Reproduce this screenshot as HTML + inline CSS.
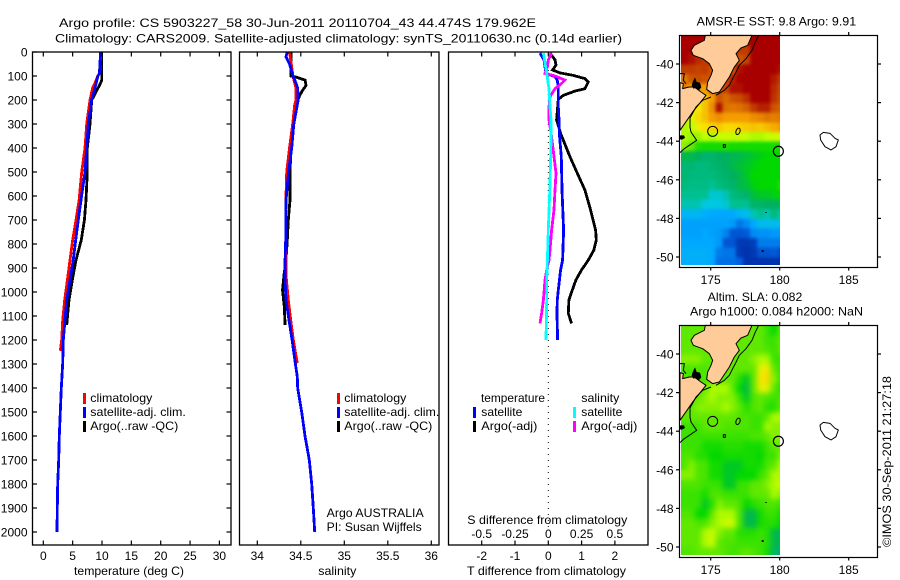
<!DOCTYPE html>
<html>
<head>
<meta charset="utf-8">
<title>Argo profile</title>
<style>
html,body{margin:0;padding:0;background:#fff}
svg{display:block}
text{font-family:"Liberation Sans",sans-serif;font-size:12px;fill:#000}
</style>
</head>
<body>
<svg id="chart" width="900" height="580" viewBox="0 0 900 580" xmlns="http://www.w3.org/2000/svg">
<defs>
<clipPath id="clip-map1"><rect x="681" y="35.5" width="99" height="229.5"/></clipPath>
<clipPath id="clip-map2"><rect x="681" y="325.5" width="99" height="229.5"/></clipPath>
<filter id="soft-sst" x="-5%" y="-5%" width="110%" height="110%" color-interpolation-filters="sRGB">
<feGaussianBlur in="SourceGraphic" stdDeviation="1.6" result="b"/>
<feMerge><feMergeNode in="SourceGraphic"/><feMergeNode in="b"/></feMerge>
</filter>
<filter id="soft-sla" x="-5%" y="-5%" width="110%" height="110%" color-interpolation-filters="sRGB">
<feGaussianBlur in="SourceGraphic" stdDeviation="2.8" result="b"/>
<feMerge><feMergeNode in="SourceGraphic"/><feMergeNode in="b"/></feMerge>
</filter>
</defs>
<rect x="0" y="0" width="900" height="580" fill="#fff"/>

<text x="59" y="27" textLength="477" lengthAdjust="spacingAndGlyphs">Argo profile: CS 5903227_58 30-Jun-2011 20110704_43 44.474S 179.962E</text>
<text x="55" y="42.5" textLength="567" lengthAdjust="spacingAndGlyphs">Climatology: CARS2009. Satellite-adjusted climatology: synTS_20110630.nc (0.14d earlier)</text>

<g id="series-temperature"></g>
<g id="series-salinity"></g>
<g id="series-diff"></g>
<g id="axes"></g>

<rect x="32.5" y="52" width="198.5" height="493" fill="none" stroke="#000" stroke-width="1.3"/>
<rect x="239.5" y="52" width="199.5" height="493" fill="none" stroke="#000" stroke-width="1.3"/>
<rect x="448.5" y="52" width="199.5" height="493" fill="none" stroke="#000" stroke-width="1.3"/>

<g>
<rect x="83" y="393" width="3" height="11" fill="#f00"/>
<rect x="83" y="407" width="3" height="11" fill="#00f"/>
<rect x="83" y="421" width="3" height="11" fill="#000"/>
<text x="90.3" y="402" textLength="62" lengthAdjust="spacingAndGlyphs">climatology</text>
<text x="90.3" y="416" textLength="95.5" lengthAdjust="spacingAndGlyphs">satellite-adj. clim.</text>
<text x="90.3" y="430" textLength="88" lengthAdjust="spacingAndGlyphs">Argo(..raw -QC)</text>
</g>
<g>
<rect x="337" y="393" width="3" height="11" fill="#f00"/>
<rect x="337" y="407" width="3" height="11" fill="#00f"/>
<rect x="337" y="421" width="3" height="11" fill="#000"/>
<text x="344.3" y="402" textLength="62" lengthAdjust="spacingAndGlyphs">climatology</text>
<text x="344.3" y="416" textLength="95" lengthAdjust="spacingAndGlyphs">satellite-adj. clim.</text>
<text x="344.3" y="430" textLength="88" lengthAdjust="spacingAndGlyphs">Argo(..raw -QC)</text>
<text x="326.7" y="517" textLength="97" lengthAdjust="spacingAndGlyphs">Argo AUSTRALIA</text>
<text x="326.7" y="531" textLength="95" lengthAdjust="spacingAndGlyphs">PI: Susan Wijffels</text>
</g>
<g>
<text x="481" y="402" textLength="64" lengthAdjust="spacingAndGlyphs">temperature</text>
<text x="581.3" y="402" textLength="38" lengthAdjust="spacingAndGlyphs">salinity</text>
<rect x="473" y="407" width="3" height="11" fill="#00f"/>
<rect x="473" y="421" width="3" height="11" fill="#000"/>
<rect x="573" y="407" width="3" height="11" fill="#0ff"/>
<rect x="573" y="421" width="3" height="11" fill="#f0f"/>
<text x="481.3" y="416" textLength="41" lengthAdjust="spacingAndGlyphs">satellite</text>
<text x="481.3" y="430" textLength="56" lengthAdjust="spacingAndGlyphs">Argo(-adj)</text>
<text x="581.3" y="416" textLength="41" lengthAdjust="spacingAndGlyphs">satellite</text>
<text x="581.3" y="430" textLength="56" lengthAdjust="spacingAndGlyphs">Argo(-adj)</text>
</g>

<text x="74" y="575" textLength="110" lengthAdjust="spacingAndGlyphs">temperature (deg C)</text>
<text x="318.3" y="575" textLength="38" lengthAdjust="spacingAndGlyphs">salinity</text>
<text x="467.3" y="524" textLength="160" lengthAdjust="spacingAndGlyphs">S difference from climatology</text>
<text x="467" y="575" textLength="159" lengthAdjust="spacingAndGlyphs">T difference from climatology</text>

<text x="696.7" y="25.5" textLength="159.5" lengthAdjust="spacingAndGlyphs">AMSR-E SST: 9.8 Argo: 9.91</text>
<text x="707.7" y="301" textLength="94.6" lengthAdjust="spacingAndGlyphs">Altim. SLA: 0.082</text>
<text x="690" y="315.5" textLength="173" lengthAdjust="spacingAndGlyphs">Argo h1000: 0.084 h2000: NaN</text>

<g clip-path="url(#clip-map1)"><g id="map1-cells" filter="url(#soft-sst)"></g></g>
<g clip-path="url(#clip-map2)"><g id="map2-cells" filter="url(#soft-sla)"></g></g>

<g id="coast" transform="translate(676 32) scale(0.33333)" stroke="#000" stroke-width="3" stroke-linejoin="round">
<path fill="#ffcc99" d="M88 10L85 25L55 40L45 55L52 70L80 80L100 95L110 115L105 130L95 150L92 172L110 185L130 180L160 135L175 105L190 85L180 65L195 48L215 40L228 10Z"/>
<path fill="#ffcc99" d="M12 152L22 155L20 170L40 165L55 165L75 180L90 190L70 215L50 240L35 262L12 295Z"/>
<path fill="none" d="M248 10L238 30L228 55L210 80L190 100L178 125L170 140L160 160L145 175L120 190"/>
<path fill="none" d="M105 195L80 205L60 225L42 258L42 285L45 300L62 325L40 340L25 350L12 362"/>
<path fill="none" d="M12 125L25 125L22 145L30 155"/>
<path fill="#000" stroke="none" d="M50 150L57 136L62 150L72 152L76 166L68 176L60 168L52 170L47 160Z"/>
<path fill="#000" stroke="none" d="M12 310L24 310L27 318L18 323L12 322Z"/>
<ellipse cx="110" cy="298" rx="15" ry="15" fill="none"/>
<ellipse cx="186" cy="298" rx="6" ry="10" fill="none" transform="rotate(20 186 298)"/>
<rect x="142" y="338" width="6" height="8" fill="none"/>
<path fill="#fff" d="M432 309L442 301L462 304L477 319L487 324L480 344L465 354L447 344L434 324Z"/>
<rect x="257" y="654" width="6" height="6" fill="#000" stroke="none"/>
<rect x="267" y="541" width="6" height="2" fill="#000" stroke="none"/>
</g>
<use href="#coast" transform="translate(0 290)"/>

<rect x="679.5" y="35.5" width="198" height="232" fill="none" stroke="#000" stroke-width="1.2"/>
<rect x="679.5" y="325.5" width="198" height="232" fill="none" stroke="#000" stroke-width="1.2"/>
<g id="map-axes"></g>
<g id="float-markers"></g>

<text transform="translate(891 547) rotate(-90)" x="0" y="0" textLength="171" lengthAdjust="spacingAndGlyphs">©IMOS 30-Sep-2011 21:27:18</text>

<script>
const depthTicks = [0,100,200,300,400,500,600,700,800,900,1000,1100,1200,1300,1400,1500,1600,1700,1800,1900,2000];
const tempTicks = [0,5,10,15,20,25,30];
const salTicks = [34,34.5,35,35.5,36];
const tDiffTicks = [-2,-1,0,1,2];
const sDiffTicks = [-0.5,-0.25,0,0.25,0.5];
const sDiffTickLabels = ['-0.5','-0.25','0','0.25','0.5'];
const lonTicks = [175,180,185];
const latTicks = [-40,-42,-44,-46,-48,-50];

const argoTempDepth = [0,100,118,140,160,180,200,300,400,500,617,700,783,867,950,1033,1137];
const argoTemp = [9.95,9.95,9.95,9.55,9.1,8.7,8.25,7.95,7.5,7.5,7.27,7.0,6.47,5.57,4.94,4.38,3.98];
const climTempDepth = [0,90,100,120,150,200,250,300,400,500,617,700,783,867,950,1033,1117,1200,1245];
const climTemp = [9.8,9.6,9.27,8.98,8.4,7.95,7.67,7.4,7.1,6.54,6.1,5.57,5.0,4.55,4.1,3.64,3.3,3.13,2.9];
const satTempDepth = [0,90,100,150,200,300,400,500,617,700,783,867,950,1033,1117,1200,1297,1350,1400,1500,1600,1700,1800,1900,2000];
const satTemp = [9.77,9.55,9.3,8.8,8.25,7.67,7.4,7.1,6.43,5.97,5.52,5.1,4.55,3.98,3.7,3.4,3.3,3.19,3.07,2.9,2.73,2.62,2.45,2.39,2.33];

const argoSalDepth = [0,100,105,117,140,160,180,200,220,300,350,400,500,617,700,783,867,929,992,1061,1137];
const argoSal = [34.387,34.387,34.45,34.55,34.56,34.52,34.49,34.464,34.43,34.41,34.4,34.387,34.376,34.376,34.356,34.345,34.33,34.307,34.29,34.31,34.32];
const climSalDepth = [0,100,150,200,220,300,400,500,600,700,930,1033,1117,1200,1297];
const climSal = [34.37,34.41,34.445,34.445,34.43,34.407,34.37,34.338,34.33,34.326,34.33,34.356,34.384,34.414,34.46];
const satSalDepth = [0,20,50,100,130,150,200,250,300,400,500,617,700,783,867,950,1033,1117,1200,1297,1353,1400,1500,1600,1700,1800,1900,2000];
const satSal = [34.345,34.33,34.37,34.41,34.445,34.464,34.47,34.445,34.42,34.395,34.36,34.33,34.326,34.326,34.32,34.32,34.33,34.364,34.4,34.437,34.46,34.464,34.51,34.548,34.598,34.625,34.644,34.66];

const argoTDiffDepth = [5,33,54,75,87,97,111,125,153,163,181,197,283,339,436,492,575,658,742,783,825,867,908,950,992,1033,1089,1131];
const argoTDiff = [0.05,0.2,0.23,0.13,0.35,0.74,1.1,1.2,1.1,0.8,0.45,0.3,0.25,0.37,0.65,0.83,1.1,1.27,1.42,1.44,1.37,1.2,1.0,0.83,0.72,0.62,0.6,0.7];
const satTDiffDepth = [5,33,89,103,117,153,228,283,339,436,575,742,867,908,992,1033,1089,1200];
const satTDiff = [-0.25,-0.13,-0.07,0.2,0.27,0.3,0.3,0.32,0.33,0.39,0.41,0.46,0.43,0.37,0.3,0.27,0.26,0.28];
const argoSDiffDepth = [5,33,61,89,100,117,131,153,186,228,283,353,436,505,575,658,742,825,867,908,950,1033,1089,1131];
const argoSDiff = [0.025,0,-0.007,-0.025,0.05,0.125,0.1,0.05,0.013,0.005,0.005,0.025,0.043,0.058,0.05,0.043,0.025,0.013,0.005,-0.012,-0.025,-0.037,-0.05,-0.0625];
const satSDiffDepth = [5,89,153,228,283,353,436,575,742,867,950,1033,1200];
const satSDiff = [-0.037,-0.012,0.005,0.013,0.02,0.02,0.018,0.011,0,-0.007,-0.012,-0.012,-0.017];

const sstRows = [
[15,15,15,15,15,15,15,15,15,15,15,15,15,15,15],
[15,15,15,15,15,15,15,15,14.3,14.3,15,15,15,15,15],
[15,14.8,14.5,14.3,15,15,15,15,14,14.2,15,15,15,15,15],
[14.3,14.3,14.2,14.3,14,14,14,14,14.8,15,15,15,15,15,14.8],
[13.5,14,14.1,14,14,14,14.2,14.6,15,15,15,15,15,14.7,14.3],
[13.5,13,13,13,14,14,14.2,14.8,14.8,15,15,15,15,14.5,14.1],
[12,12,12,12.5,13,14,13.7,14,14.1,14.4,15,15,15,14.4,14],
[11.5,12,12,12.5,13.2,14.8,13.6,13.5,13.6,13.8,14.3,14.6,14.6,14,13.8],
[11.5,11.8,12.2,12.5,13,13.2,13,13,13,13,13.2,13.3,13.5,13.4,13.5],
[11.4,11.5,11.9,12.1,12.3,12.4,12.2,12.2,12.3,12.4,12.5,12.4,12.6,12.8,13],
[11.4,11.3,11.3,11.5,11.4,11.5,11.6,11.5,11.6,11.5,11.4,11.4,11.5,11.6,11.7],
[11.2,11,10.3,10.2,10.2,10.2,10.3,10.2,10.2,10.2,10.2,10.2,10.2,10.2,10.2],
[9.6,9.6,9.5,9.4,9.4,9.5,9.5,9.6,9.6,9.7,9.8,9.9,10,10,10],
[9.3,9.3,9.2,9.2,9.3,9.4,9.5,9.6,9.7,9.8,9.9,10,10,10,10],
[9.3,9.2,9.2,9.2,9.2,9.3,9.4,9.5,9.6,9.8,10,10,10,10,10],
[9.2,9.1,9.1,9.1,9.0,9.2,9.3,9.4,9.6,9.7,9.9,10,10,10,10.3],
[9,9,9,9,8.6,8.6,8.8,9.2,9.3,9.4,9.7,9.8,9.8,9.9,10],
[8.8,8.8,8.8,8.5,8.5,8.5,8.6,9,9,9,9.4,9.4,9.5,9.5,9.6],
[8.2,8.2,8.2,8.1,8,8,8,8,8.2,8.3,8.8,9,8.8,9.2,8.9],
[7.9,7.9,7.9,7.9,7.9,7.9,7.9,7.8,7.3,7.6,8,8.3,8.3,8.3,8.3],
[7.9,7.9,7.9,8,7.9,7.8,7.5,6.8,6.8,6.9,7.6,7.7,7.7,7.8,7.8],
[8,8,8,8,8,7.8,6.8,6.8,6.3,6.3,6.4,7.4,7.4,7.4,7.4],
[8.1,8.1,8.1,8.1,8,7.4,7.3,7.3,6.3,6.2,6.3,6.8,6.8,6.9,6.6],
[8.1,8.1,8.1,8.1,8,7.2,7.2,7.2,7,6.2,6.2,6.2,6.2,6.2,6.2]
];
const slaRows = [
[0.05,0.05,0.05,0.05,0.05,0.05,0.05,0.05,0.05,0.05,0.05,0.05,0.03,0,0.05],
[0.05,0.05,0.05,0.05,0.05,0.05,0.05,0.05,0.05,0.05,0.05,0.05,0.03,0.03,0.05],
[0.05,0.05,0.05,0.05,0.05,0.05,0.05,0.05,0.05,0.05,0.05,0.05,0.04,0.03,0.05],
[0.06,0.06,0.06,0.05,0.05,0.05,0.05,0.05,0.05,0.05,0.06,0.07,0.07,0.03,0.03],
[0.04,0.04,0.04,0.04,0.05,0.05,0.05,0.05,0.05,0.05,0.05,0.09,0.1,0.05,0.03],
[0.04,0.04,0.04,0.04,0.05,0.05,0.05,0.05,0.02,-0.01,0.05,0.1,0.11,0.06,0.03],
[0.05,0.05,0.05,0.05,0.07,0.07,0.07,0.05,0,-0.02,0.05,0.09,0.09,0.05,0.02],
[0.05,0.05,0.05,0.06,0.07,0.06,0.06,0.06,0.03,-0.01,0.04,0.05,0.04,0.03,0.04],
[0.05,0.05,0.06,0.06,0.06,0.06,0.07,0.06,0.05,0.02,0.04,0.05,0.02,0.02,0.05],
[0.05,0.05,0.05,0.05,0.05,0.05,0.05,0.05,0.04,0.04,0.03,0.03,0.05,0.07,0.07],
[0.03,0.03,0.03,0.05,0.05,0.05,0.04,0.04,0.04,0.04,0.03,0.03,0.07,0.06,0.06],
[0.03,0.03,0.03,0.03,0.03,0.03,0.03,0.03,0.03,0.03,0.04,0.04,0.05,0.06,0.06],
[0.03,0.03,0.03,0.01,0.01,0.01,0.02,0.02,0.02,0.01,0.01,0.01,0.03,0.05,0.05],
[0.04,0.04,0.02,0.02,0,0,0.01,0.01,0.01,0.01,0.01,0,0.03,0.03,0.06],
[0.04,0.06,0.04,0.04,0.01,0.01,-0.01,-0.01,-0.01,0.01,0.01,0.01,0.04,0.05,0.07],
[0.06,0.06,0.04,0.04,0.01,0.01,-0.01,-0.01,0,0,0,0.03,0.05,0.07,0.07],
[0.04,0.04,0.04,0.03,0.03,0.03,-0.01,-0.01,0.03,0.03,0.05,0.05,0.06,0.07,0.08],
[0.03,0.03,0.03,0.01,0.04,0.04,0.03,0.03,0.03,0.03,0.05,0.05,0.05,0.07,0.06],
[0.03,0.03,0.03,-0.01,0.02,0.06,0.05,0.05,0.04,0,0.02,0.03,0.04,0.04,0.03],
[0.04,0.04,0,0,0.05,0.07,0.07,0.07,0.04,-0.02,-0.02,0.01,0.03,0.03,0.01],
[0.05,0.05,0.04,0.04,0.06,0.07,0.08,0.08,0.04,-0.02,-0.02,0.01,0.02,0.02,0],
[0.05,0.05,0.05,0.07,0.08,0.06,0.05,0.05,0.02,0.02,0.02,0.03,0.02,-0.02,-0.02],
[0.05,0.05,0.05,0.07,0.08,0.05,0.04,0.04,0.03,0.03,0.03,0.03,0.02,-0.02,-0.02],
[0.04,0.04,0.05,0.05,0.05,0.05,0.04,0.03,0.04,0.05,0.04,0.03,0.01,-0.03,-0.03]
];
const floatLon = [179.962];
const floatLat = [-44.474];

const SVGNS = 'http://www.w3.org/2000/svg';
function xTemp(v){ return 43.3 + 5.87 * v; }
function xSal(v){ return 257.3 + 87 * (v - 34); }
function xTDiff(v){ return 548.3 + 33.3 * v; }
function xSDiff(v){ return 548.3 + 133.2 * v; }
function yDepth(d){ return 52 + 0.24 * d; }
function xLon(v){ return 710.7 + 13.8 * (v - 175); }
function yLat(v, off){ return 64 + off + 19.3 * (-40 - v); }

const sstStops = [[6,0,40,160],[7,0,96,224],[8,0,168,255],[8.5,0,200,224],[9,0,192,144],[9.5,0,176,96],[10,0,216,0],[11,96,232,0],[11.5,192,255,0],[12,248,232,0],[13,244,156,0],[14,204,84,0],[15,168,0,0]];
function stopColor(v){
  if (v <= sstStops[0][0]) return 'rgb(' + sstStops[0].slice(1).join(',') + ')';
  for (let i = 1; i < sstStops.length; i++) {
    const a = sstStops[i-1], b = sstStops[i];
    if (v <= b[0]) {
      const t = (v - a[0]) / (b[0] - a[0]);
      return 'rgb(' + [1,2,3].map(function(k){ return Math.round(a[k] + t * (b[k] - a[k])); }).join(',') + ')';
    }
  }
  return 'rgb(168,0,0)';
}
function slaColor(v){ return stopColor(10 + v * 20); }

function drawSeries(parentId, depths, values, xFn, color, name){
  const el = document.createElementNS(SVGNS, 'polyline');
  
  
  el.setAttribute('points', values.map(function(v, i){ return xFn(v).toFixed(1) + ',' + yDepth(depths[i]).toFixed(1); }).join(' '));
  el.setAttribute('fill', 'none');
  el.setAttribute('stroke', color);
  el.setAttribute('stroke-width', '2.8');
  el.setAttribute('shape-rendering', 'crispEdges');
  document.getElementById(parentId).appendChild(el);
}
drawSeries('series-temperature', argoTempDepth, argoTemp, xTemp, '#000', 'temperature-argo-line');
drawSeries('series-temperature', climTempDepth, climTemp, xTemp, '#f00', 'temperature-climatology-line');
drawSeries('series-temperature', satTempDepth, satTemp, xTemp, '#00f', 'temperature-satellite-line');
drawSeries('series-salinity', argoSalDepth, argoSal, xSal, '#000', 'salinity-argo-line');
drawSeries('series-salinity', climSalDepth, climSal, xSal, '#f00', 'salinity-climatology-line');
drawSeries('series-salinity', satSalDepth, satSal, xSal, '#00f', 'salinity-satellite-line');
drawSeries('series-diff', argoTDiffDepth, argoTDiff, xTDiff, '#000', 't-diff-argo-line');
drawSeries('series-diff', satTDiffDepth, satTDiff, xTDiff, '#00f', 't-diff-satellite-line');
drawSeries('series-diff', argoSDiffDepth, argoSDiff, xSDiff, '#f0f', 's-diff-argo-line');
drawSeries('series-diff', satSDiffDepth, satSDiff, xSDiff, '#0ff', 's-diff-satellite-line');

function addTick(parent, x1, y1, x2, y2, name){
  const el = document.createElementNS(SVGNS, 'line');
  
  
  el.setAttribute('x1', x1);
  el.setAttribute('y1', y1);
  el.setAttribute('x2', x2);
  el.setAttribute('y2', y2);
  el.setAttribute('stroke', '#000');
  el.setAttribute('stroke-width', '1.2');
  parent.appendChild(el);
}
function addLabel(parent, x, y, anchor, str, name){
  const el = document.createElementNS(SVGNS, 'text');
  
  
  el.setAttribute('x', x);
  el.setAttribute('y', y);
  el.setAttribute('text-anchor', anchor);
  el.textContent = str;
  parent.appendChild(el);
}
const axes = document.getElementById('axes');
depthTicks.forEach(function(d){
  const y = yDepth(d);
  addTick(axes, 32.5, y, 37, y, 'depth-tick');
  addTick(axes, 226.5, y, 231, y, 'depth-tick');
  addLabel(axes, 27.5, y + 4.5, 'end', String(d), 'depth-tick-label');
});
tempTicks.forEach(function(v){
  const x = xTemp(v);
  addTick(axes, x, 52, x, 56.5, 'temperature-tick');
  addTick(axes, x, 540.5, x, 545, 'temperature-tick');
  addLabel(axes, x, 560, 'middle', String(v), 'temperature-tick-label');
});
salTicks.forEach(function(v){
  const x = xSal(v);
  addTick(axes, x, 52, x, 56.5, 'salinity-tick');
  addTick(axes, x, 540.5, x, 545, 'salinity-tick');
  addLabel(axes, x, 560, 'middle', String(v), 'salinity-tick-label');
});
tDiffTicks.forEach(function(v){
  const x = xTDiff(v);
  addTick(axes, x, 52, x, 56.5, 't-diff-tick');
  addTick(axes, x, 540.5, x, 545, 't-diff-tick');
  addLabel(axes, x, 560, 'middle', String(v), 't-diff-tick-label');
});
sDiffTicks.forEach(function(v, i){
  addLabel(axes, xSDiff(v), 538, 'middle', sDiffTickLabels[i], 's-diff-tick-label');
});
const zeroLine = document.createElementNS(SVGNS, 'line');


zeroLine.setAttribute('x1', xTDiff(0));
zeroLine.setAttribute('x2', xTDiff(0));
zeroLine.setAttribute('y1', 52);
zeroLine.setAttribute('y2', 528);
zeroLine.setAttribute('stroke', '#000');
zeroLine.setAttribute('stroke-width', '1');
zeroLine.setAttribute('stroke-dasharray', '1 5');
document.getElementById('series-diff').insertBefore(zeroLine, document.getElementById('series-diff').firstChild);

function drawHeat(parentId, rows, colorFn, off, name){
  const parent = document.getElementById(parentId);
  rows.forEach(function(row, r){
    row.forEach(function(v, c){
      const cell = document.createElementNS(SVGNS, 'rect');
      
      
      const lon0 = 172.85 + c * 0.5;
      const lat0 = -38.52 - r * 0.5;
      cell.setAttribute('x', xLon(lon0).toFixed(1));
      cell.setAttribute('y', yLat(lat0, off).toFixed(1));
      cell.setAttribute('width', (xLon(lon0 + 0.5) - xLon(lon0) + 0.3).toFixed(1));
      cell.setAttribute('height', (yLat(lat0 - 0.5, off) - yLat(lat0, off) + 0.3).toFixed(1));
      cell.setAttribute('fill', colorFn(v));
      cell.setAttribute('shape-rendering', 'crispEdges');
      parent.appendChild(cell);
    });
  });
}
drawHeat('map1-cells', sstRows, stopColor, 0, 'sst-cell');
drawHeat('map2-cells', slaRows, slaColor, 290, 'sla-cell');

const mapAxes = document.getElementById('map-axes');
[0, 290].forEach(function(off){
  lonTicks.forEach(function(v){
    const x = xLon(v);
    addTick(mapAxes, x, 35.5 + off, x, 32 + off, 'map-lon-tick');
    addTick(mapAxes, x, 267.5 + off, x, 270.5 + off, 'map-lon-tick');
    addLabel(mapAxes, x, 284 + off, 'middle', String(v), 'map-lon-tick-label');
  });
  latTicks.forEach(function(v){
    const y = yLat(v, off);
    addTick(mapAxes, 679.5, y, 676, y, 'map-lat-tick');
    addTick(mapAxes, 877.5, y, 881, y, 'map-lat-tick');
    addLabel(mapAxes, 673.5, y + 4.5, 'end', String(v), 'map-lat-tick-label');
  });
});

const markers = document.getElementById('float-markers');
[0, 290].forEach(function(off){
  const m = document.createElementNS(SVGNS, 'circle');
  
  
  m.setAttribute('cx', xLon(floatLon[0]) - 0.8);
  m.setAttribute('cy', yLat(floatLat[0], off) + 0.9);
  m.setAttribute('r', 5);
  m.setAttribute('fill', 'none');
  m.setAttribute('stroke', '#000');
  m.setAttribute('stroke-width', '1.2');
  markers.appendChild(m);
});
</script>
</svg>
</body>
</html>
